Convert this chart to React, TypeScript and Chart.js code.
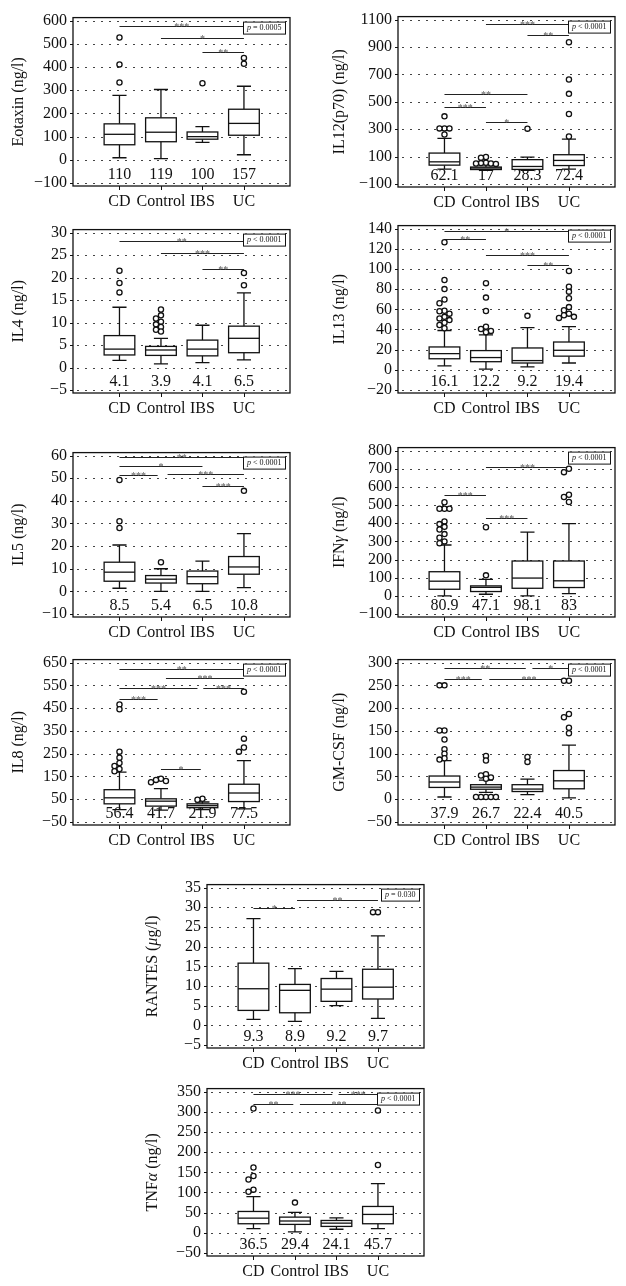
import React, { useEffect, useRef } from 'react';
import { Chart, registerables } from 'chart.js';

Chart.register(...registerables);

const FONT = '"Liberation Serif", "DejaVu Serif", "Times New Roman", serif';
const CATEGORIES = ['CD', 'Control', 'IBS', 'UC'];

// ---- Eotaxin ---- box stats: [min, q1, median, q3, max]
const EOTAXIN_TITLE = [['Eotaxin (ng/l)', false]];
const EOTAXIN_BOX = [[9, 65, 110, 155, 278], [5, 78, 119, 181, 303], [75, 89, 100, 120, 143], [22, 106, 157, 218, 317]];
const EOTAXIN_OUT = [[527, 411, 333], [], [330], [414, 439]];
const EOTAXIN_MED = ['110', '119', '100', '157'];
const EOTAXIN_SIG = [[1, 4, 575, '***'], [2, 4, 523, '*'], [3, 4, 464, '**']];
const EOTAXIN_TICKS = [-100, 0, 100, 200, 300, 400, 500, 600];
const EOTAXIN_P = ['p', ' = 0.0005'];

// ---- IL12(p70) ----
const IL12_TITLE = [['IL12(p70) (ng/l)', false]];
const IL12_BOX = [[9, 38, 62.1, 126, 233], [0, 6, 17, 24, 40], [0, 7, 28.3, 78, 97], [9, 35, 72.4, 114, 228]];
const IL12_OUT = [[394, 306, 306, 306, 261], [97, 92, 55, 53, 50, 50, 47], [304], [934, 663, 558, 411, 247]];
const IL12_MED = ['62.1', '17', '28.3', '72.4'];
const IL12_SIG = [[2, 4, 1064, '***'], [3, 4, 988, '**'], [1, 3, 556, '**'], [1, 2, 461, '***'], [2, 3, 351, '*']];
const IL12_TICKS = [-100, 100, 300, 500, 700, 900, 1100];
const IL12_P = ['p', ' < 0.0001'];

// ---- IL4 ----
const IL4_TITLE = [['IL4 (ng/l)', false]];
const IL4_BOX = [[1.6, 2.8, 4.1, 7.1, 13.4], [0.8, 2.7, 3.9, 4.7, 6.5], [1.1, 2.6, 4.1, 6.1, 9.4], [1.7, 3.3, 6.5, 9.2, 16.6]];
const IL4_OUT = [[21.5, 18.8, 16.7], [12.9, 11.6, 10.9, 10.2, 9.6, 9.0, 8.4, 8.0], [], [21.0, 18.3]];
const IL4_MED = ['4.1', '3.9', '4.1', '6.5'];
const IL4_SIG = [[1, 4, 28.1, '**'], [2, 4, 25.4, '***'], [3, 4, 21.9, '**']];
const IL4_TICKS = [-5, 0, 5, 10, 15, 20, 25, 30];
const IL4_P = ['p', ' < 0.0001'];

// ---- IL13 ----
const IL13_TITLE = [['IL13 (ng/l)', false]];
const IL13_BOX = [[3.9, 11, 16.1, 22.7, 39], [0.7, 8.1, 12.2, 19.1, 34.7], [2.9, 6.8, 9.2, 21.7, 41.8], [6.8, 13.6, 19.4, 27.6, 42.8]];
const IL13_OUT = [
  [126.4, 89, 80, 69.7, 66, 58.6, 58, 55.7, 52.5, 51, 49.3, 46.7, 44.4, 41.2],
  [85.9, 71.6, 58.3, 42.8, 40.5, 38.6, 37.3],
  [53.5],
  [97.9, 82.3, 77.5, 71, 62.2, 59, 55.7, 54.1, 52.5, 51.5],
];
const IL13_MED = ['16.1', '12.2', '9.2', '19.4'];
const IL13_SIG = [[1, 4, 137.7, '*'], [1, 2, 129.6, '**'], [2, 4, 113.8, '***'], [3, 4, 103.4, '**']];
const IL13_TICKS = [-20, 0, 20, 40, 60, 80, 100, 120, 140];
const IL13_P = ['p', ' < 0.0001'];

// ---- IL5 ----
const IL5_TITLE = [['IL5 (ng/l)', false]];
const IL5_BOX = [[1.4, 4.5, 8.5, 12.9, 20.5], [0, 3.7, 5.4, 7, 10], [0, 3.4, 6.5, 9, 13.4], [1.7, 7.6, 10.8, 15.4, 25.5]];
const IL5_OUT = [[49.2, 31, 28], [12.9], [], [44.4]];
const IL5_MED = ['8.5', '5.4', '6.5', '10.8'];
const IL5_SIG = [[1, 4, 59.3, '**'], [1, 3, 55.3, '*'], [1, 1.92, 51.2, '***'], [2.16, 4, 51.7, '***'], [3, 4, 46.5, '***']];
const IL5_TICKS = [-10, 0, 10, 20, 30, 40, 50, 60];
const IL5_P = ['p', ' < 0.0001'];

// ---- IFNγ ----
const IFNG_TITLE = [['IFN', false], ['γ', true], [' (ng/l)', false]];
const IFNG_BOX = [[0, 36.5, 80.9, 133, 280], [9, 24, 47.1, 55, 91], [0, 42, 98.1, 192, 351], [13, 46, 83, 192, 398]];
const IFNG_OUT = [[515, 480, 480, 480, 410, 395, 380, 365, 340, 320, 300, 290], [378, 113], [], [700, 681, 557, 544, 517]];
const IFNG_MED = ['80.9', '47.1', '98.1', '83'];
const IFNG_SIG = [[2, 4, 707, '***'], [1, 2, 553, '***'], [2, 3, 426, '***']];
const IFNG_TICKS = [-100, 0, 100, 200, 300, 400, 500, 600, 700, 800];
const IFNG_P = ['p', ' < 0.0001'];

// ---- IL8 ----
const IL8_TITLE = [['IL8 (ng/l)', false]];
const IL8_BOX = [[5, 30, 56.4, 92, 169], [2, 20, 41.7, 52, 97], [5, 13, 21.9, 30, 38], [8, 40, 77.5, 116, 220]];
const IL8_OUT = [[466, 445, 259, 232, 209, 196, 183, 173], [140, 135, 130, 125], [52, 48], [522, 316, 277, 259]];
const IL8_MED = ['56.4', '41.7', '21.9', '77.5'];
const IL8_SIG = [[1, 4, 621, '**'], [2.12, 4, 580, '***'], [1, 2.88, 537, '***'], [3.02, 4, 537, '***'], [1, 1.92, 490, '***'], [2, 2.96, 183, '*']];
const IL8_TICKS = [-50, 50, 150, 250, 350, 450, 550, 650];
const IL8_P = ['p', ' < 0.0001'];

// ---- GM-CSF ----
const GMCSF_TITLE = [['GM-CSF (ng/l)', false]];
const GMCSF_BOX = [[5, 26, 37.9, 51, 85], [15, 22, 26.7, 32, 42], [10, 17, 22.4, 32, 44], [3, 23, 40.5, 63, 119]];
const GMCSF_OUT = [[250, 250, 151, 151, 131, 110, 100, 90, 87], [95, 85, 55, 52, 48, 45, 5, 5, 5, 5, 5], [93, 82], [260, 260, 187, 180, 157, 145]];
const GMCSF_MED = ['37.9', '26.7', '22.4', '40.5'];
const GMCSF_SIG = [[1, 2.96, 287.7, '**'], [3.12, 4, 287.7, '*'], [1, 1.9, 264.5, '***'], [2.08, 4, 264.5, '***']];
const GMCSF_TICKS = [-50, 0, 50, 100, 150, 200, 250, 300];
const GMCSF_P = ['p', ' < 0.0001'];

// ---- RANTES ----
const RANTES_TITLE = [['RANTES (', false], ['μ', true], ['g/l)', false]];
const RANTES_BOX = [[1.5, 3.8, 9.3, 15.8, 27.1], [1, 3.2, 8.9, 10.4, 14.4], [5, 6.1, 9.2, 11.9, 13.7], [1.8, 6.7, 9.7, 14.25, 22.75]];
const RANTES_OUT = [[], [], [], [28.75, 28.75]];
const RANTES_MED = ['9.3', '8.9', '9.2', '9.7'];
const RANTES_SIG = [[1, 2, 29.7, '*'], [2.05, 4, 31.75, '**']];
const RANTES_TICKS = [-5, 0, 5, 10, 15, 20, 25, 30, 35];
const RANTES_P = ['p', ' = 0.030'];

// ---- TNFα ----
const TNFA_TITLE = [['TNF', false], ['α', true], [' (ng/l)', false]];
const TNFA_BOX = [[10.5, 22.6, 36.5, 53, 90], [2.4, 21, 29.4, 39, 51], [9, 16, 24.1, 30.7, 37], [10.5, 22.6, 45.7, 65.4, 122]];
const TNFA_OUT = [[308, 162, 141, 132, 107, 102], [75], [], [303, 168]];
const TNFA_MED = ['36.5', '29.4', '24.1', '45.7'];
const TNFA_SIG = [[1, 2.9, 344, '***'], [3.05, 4, 344, '***'], [1, 1.96, 319, '**'], [2.12, 4, 319, '***']];
const TNFA_TICKS = [-50, 0, 50, 100, 150, 200, 250, 300, 350];
const TNFA_P = ['p', ' < 0.0001'];

// ---- layout (pixel frame of each plot) ----
const FRAME_W = 217;
const AXIS_W = 73;
const AXIS_H = 40;
const PAD_T = 12;
const PAD_R = 10;
const X_MIN = -0.12;
const X_MAX = 5.11;

const PANELS = [
  { name: 'eotaxin', title: EOTAXIN_TITLE, box: EOTAXIN_BOX, out: EOTAXIN_OUT, med: EOTAXIN_MED, sig: EOTAXIN_SIG, ticks: EOTAXIN_TICKS, p: EOTAXIN_P, left: 73, top: 14, bottom: 186, titleOffset: 54 },
  { name: 'il12', title: IL12_TITLE, box: IL12_BOX, out: IL12_OUT, med: IL12_MED, sig: IL12_SIG, ticks: IL12_TICKS, p: IL12_P, left: 398, top: 13, bottom: 187, titleOffset: 58 },
  { name: 'il4', title: IL4_TITLE, box: IL4_BOX, out: IL4_OUT, med: IL4_MED, sig: IL4_SIG, ticks: IL4_TICKS, p: IL4_P, left: 73, top: 226, bottom: 393, titleOffset: 54 },
  { name: 'il13', title: IL13_TITLE, box: IL13_BOX, out: IL13_OUT, med: IL13_MED, sig: IL13_SIG, ticks: IL13_TICKS, p: IL13_P, left: 398, top: 222, bottom: 393, titleOffset: 58 },
  { name: 'il5', title: IL5_TITLE, box: IL5_BOX, out: IL5_OUT, med: IL5_MED, sig: IL5_SIG, ticks: IL5_TICKS, p: IL5_P, left: 73, top: 449, bottom: 617, titleOffset: 54 },
  { name: 'ifng', title: IFNG_TITLE, box: IFNG_BOX, out: IFNG_OUT, med: IFNG_MED, sig: IFNG_SIG, ticks: IFNG_TICKS, p: IFNG_P, left: 398, top: 444, bottom: 617, titleOffset: 58 },
  { name: 'il8', title: IL8_TITLE, box: IL8_BOX, out: IL8_OUT, med: IL8_MED, sig: IL8_SIG, ticks: IL8_TICKS, p: IL8_P, left: 73, top: 656, bottom: 825, titleOffset: 54 },
  { name: 'gmcsf', title: GMCSF_TITLE, box: GMCSF_BOX, out: GMCSF_OUT, med: GMCSF_MED, sig: GMCSF_SIG, ticks: GMCSF_TICKS, p: GMCSF_P, left: 398, top: 656, bottom: 825, titleOffset: 58 },
  { name: 'rantes', title: RANTES_TITLE, box: RANTES_BOX, out: RANTES_OUT, med: RANTES_MED, sig: RANTES_SIG, ticks: RANTES_TICKS, p: RANTES_P, left: 207, top: 881, bottom: 1048, titleOffset: 54 },
  { name: 'tnfa', title: TNFA_TITLE, box: TNFA_BOX, out: TNFA_OUT, med: TNFA_MED, sig: TNFA_SIG, ticks: TNFA_TICKS, p: TNFA_P, left: 207, top: 1085, bottom: 1256, titleOffset: 54 },
];

const JITTER = [0, -0.12, 0.12, -0.24, 0.24, -0.36, 0.36];

function buildOutliers(out: number[][], range: number) {
  const tol = range * 0.026;
  const pts: { x: number; y: number }[] = [];
  out.forEach((list, i) => {
    const placed: { v: number; s: number }[] = [];
    list.forEach((v) => {
      const used = new Set(placed.filter((q) => Math.abs(q.v - v) < tol).map((q) => q.s));
      let s = 0;
      while (used.has(s)) s++;
      placed.push({ v, s });
      pts.push({ x: i + 1 + JITTER[s % JITTER.length], y: v });
    });
  });
  return pts;
}

function makePlugin(cfg: any) {
  return {
    id: 'boxplot_' + cfg.name,
    beforeDatasetsDraw(chart: any) {
      const { ctx, chartArea: ca, scales } = chart;
      const xs = scales.x;
      const ys = scales.y;
      ctx.save();
      // dotted grid
      ctx.strokeStyle = '#444';
      ctx.lineWidth = 1;
      ctx.setLineDash([2, 6]);
      cfg.ticks.forEach((v: number) => {
        const y = Math.round(ys.getPixelForValue(v)) + 0.5;
        ctx.beginPath();
        ctx.moveTo(ca.left + 4, y);
        ctx.lineTo(ca.right - 2, y);
        ctx.stroke();
      });
      ctx.setLineDash([]);
      // boxes
      const unit = xs.getPixelForValue(1) - xs.getPixelForValue(0);
      const hw = unit * 0.37;
      const cw = unit * 0.17;
      ctx.strokeStyle = '#111';
      ctx.lineWidth = 1.3;
      cfg.box.forEach((s: number[], i: number) => {
        const cx = xs.getPixelForValue(i + 1);
        const [mn, q1, md, q3, mx] = s.map((v) => ys.getPixelForValue(v));
        ctx.beginPath();
        ctx.moveTo(cx, q3);
        ctx.lineTo(cx, mx);
        ctx.moveTo(cx - cw, mx);
        ctx.lineTo(cx + cw, mx);
        ctx.moveTo(cx, q1);
        ctx.lineTo(cx, mn);
        ctx.moveTo(cx - cw, mn);
        ctx.lineTo(cx + cw, mn);
        ctx.stroke();
        ctx.fillStyle = '#fff';
        ctx.fillRect(cx - hw, q3, 2 * hw, q1 - q3);
        ctx.strokeRect(cx - hw, q3, 2 * hw, q1 - q3);
        ctx.beginPath();
        ctx.moveTo(cx - hw, md);
        ctx.lineTo(cx + hw, md);
        ctx.stroke();
      });
      // significance bars
      ctx.lineWidth = 1;
      ctx.strokeStyle = '#222';
      cfg.sig.forEach((s: any[]) => {
        const x1 = xs.getPixelForValue(s[0]);
        const x2 = xs.getPixelForValue(s[1]);
        const y = Math.round(ys.getPixelForValue(s[2])) + 0.5;
        ctx.beginPath();
        ctx.moveTo(x1, y);
        ctx.lineTo(x2, y);
        ctx.stroke();
        ctx.fillStyle = '#555';
        ctx.font = '10px ' + FONT;
        ctx.textAlign = 'center';
        ctx.textBaseline = 'alphabetic';
        ctx.fillText(s[3], (x1 + x2) / 2, y + 3.5);
      });
      ctx.restore();
    },
    afterDatasetsDraw(chart: any) {
      const { ctx, chartArea: ca, scales } = chart;
      const xs = scales.x;
      const ys = scales.y;
      ctx.save();
      // frame
      ctx.strokeStyle = '#111';
      ctx.lineWidth = 1.3;
      ctx.strokeRect(ca.left, ca.top, ca.right - ca.left, ca.bottom - ca.top);
      // tick marks
      ctx.lineWidth = 1;
      ctx.beginPath();
      cfg.ticks.forEach((v: number) => {
        const y = Math.round(ys.getPixelForValue(v)) + 0.5;
        ctx.moveTo(ca.left - 3, y);
        ctx.lineTo(ca.left, y);
      });
      [1, 2, 3, 4].forEach((v) => {
        const x = Math.round(xs.getPixelForValue(v)) + 0.5;
        ctx.moveTo(x, ca.bottom);
        ctx.lineTo(x, ca.bottom + 4);
      });
      ctx.stroke();
      // median labels
      ctx.fillStyle = '#111';
      ctx.font = '16px ' + FONT;
      ctx.textAlign = 'center';
      ctx.textBaseline = 'middle';
      cfg.med.forEach((t: string, i: number) => {
        ctx.fillText(t, xs.getPixelForValue(i + 1), ca.bottom - 11);
      });
      // p-value box
      const fI = 'italic 8px ' + FONT;
      const fN = '8px ' + FONT;
      ctx.font = fI;
      const w1 = ctx.measureText(cfg.p[0]).width;
      ctx.font = fN;
      const w2 = ctx.measureText(cfg.p[1]).width;
      const bw = w1 + w2 + 7;
      const bh = 12;
      const bx = ca.right - 5 - bw;
      const by = ca.top + 4;
      ctx.fillStyle = '#fff';
      ctx.fillRect(bx, by, bw, bh);
      ctx.strokeStyle = '#111';
      ctx.lineWidth = 1;
      ctx.strokeRect(Math.round(bx) + 0.5, by + 0.5, Math.round(bw), bh);
      ctx.fillStyle = '#111';
      ctx.textAlign = 'left';
      ctx.textBaseline = 'middle';
      ctx.font = fI;
      ctx.fillText(cfg.p[0], bx + 3.5, by + bh / 2 + 0.5);
      ctx.font = fN;
      ctx.fillText(cfg.p[1], bx + 3.5 + w1, by + bh / 2 + 0.5);
      // y-axis title
      const parts = cfg.title;
      let total = 0;
      const widths = parts.map((pt: any[]) => {
        ctx.font = (pt[1] ? 'italic ' : '') + '16px ' + FONT;
        const w = ctx.measureText(pt[0]).width;
        total += w;
        return w;
      });
      ctx.translate(ca.left - cfg.titleOffset, (ca.top + ca.bottom) / 2);
      ctx.rotate(-Math.PI / 2);
      let x = -total / 2;
      parts.forEach((pt: any[], i: number) => {
        ctx.font = (pt[1] ? 'italic ' : '') + '16px ' + FONT;
        ctx.fillText(pt[0], x, 0);
        x += widths[i];
      });
      ctx.restore();
    },
  };
}

function Panel({ cfg }: { cfg: any }) {
  const ref = useRef<HTMLCanvasElement>(null);
  const canvasTop = cfg.top - PAD_T;
  const width = AXIS_W + FRAME_W + PAD_R;
  const height = cfg.bottom - canvasTop + AXIS_H;
  useEffect(() => {
    const tMin = Math.min(...cfg.ticks);
    const tMax = Math.max(...cfg.ticks);
    const ppu = (cfg.bottom - cfg.top - 6) / (tMax - tMin);
    const pad = 3 / ppu;
    const yMin = tMin - pad;
    const yMax = tMax + pad;
    const chart = new Chart(ref.current as HTMLCanvasElement, {
      type: 'scatter',
      data: {
        datasets: [
          {
            data: buildOutliers(cfg.out, yMax - yMin),
            pointRadius: 2.6,
            pointHoverRadius: 2.6,
            pointStyle: 'circle',
            backgroundColor: '#fff',
            borderColor: '#111',
            borderWidth: 1.3,
          },
        ],
      },
      options: {
        animation: false,
        responsive: false,
        maintainAspectRatio: false,
        devicePixelRatio: 1,
        events: [],
        layout: { padding: { top: PAD_T, right: PAD_R, left: 0, bottom: 0 } },
        plugins: { legend: { display: false }, tooltip: { enabled: false } },
        scales: {
          x: {
            type: 'linear',
            min: X_MIN,
            max: X_MAX,
            afterBuildTicks: (s: any) => {
              s.ticks = [1, 2, 3, 4].map((v) => ({ value: v }));
            },
            afterFit: (s: any) => {
              s.height = AXIS_H;
            },
            grid: { display: false, drawTicks: false },
            border: { display: false },
            ticks: {
              autoSkip: false,
              maxRotation: 0,
              padding: 6,
              color: '#111',
              font: { family: FONT, size: 16 },
              callback: (v: any) => CATEGORIES[Math.round(v) - 1] || '',
            },
          },
          y: {
            type: 'linear',
            min: yMin,
            max: yMax,
            afterBuildTicks: (s: any) => {
              s.ticks = cfg.ticks.map((v: number) => ({ value: v }));
            },
            afterFit: (s: any) => {
              s.width = AXIS_W;
            },
            grid: { display: false, drawTicks: false },
            border: { display: false },
            ticks: {
              autoSkip: false,
              padding: 6,
              color: '#111',
              font: { family: FONT, size: 16 },
              callback: (v: any) => String(v).replace('-', '\u2212'),
            },
          },
        },
      },
      plugins: [makePlugin(cfg)],
    } as any);
    return () => chart.destroy();
  }, [cfg]);
  return (
    <canvas
      ref={ref}
      width={width}
      height={height}
      style={{ position: 'absolute', left: cfg.left - AXIS_W, top: canvasTop, width, height }}
    />
  );
}

export default function App() {
  return (
    <div style={{ position: 'absolute', left: 0, top: 0, width: 626, height: 1286, background: '#fff', overflow: 'hidden' }}>
      {PANELS.map((p) => (
        <Panel key={p.name} cfg={p} />
      ))}
    </div>
  );
}
